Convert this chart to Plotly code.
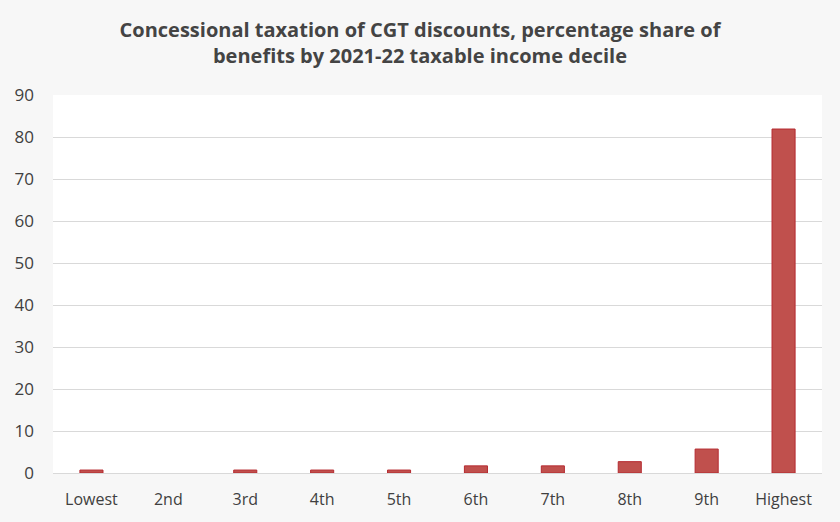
import plotly.graph_objects as go

categories = ["Lowest", "2nd", "3rd", "4th", "5th", "6th", "7th", "8th", "9th", "Highest"]
share = [0.7, 0.0, 0.7, 0.7, 0.7, 1.7, 1.7, 2.7, 5.7, 81.9]
y_ticks = [0, 10, 20, 30, 40, 50, 60, 70, 80, 90]

fig = go.Figure(go.Bar(
    x=categories, y=share,
    marker=dict(color="#c0504d",
                line=dict(color="#b52a30", width=[1 if v > 0 else 0 for v in share])),
    width=0.3,
))

fig.update_layout(
    width=840, height=522,
    paper_bgcolor="#f7f7f7", plot_bgcolor="#ffffff",
    margin=dict(l=53, r=18, t=95, b=49),
    title=dict(
        text="<b>Concessional taxation of CGT discounts, percentage share of<br>benefits by 2021-22 taxable income decile</b>",
        x=0.5, xanchor="center", y=0.93, yanchor="middle",
        font=dict(family="Open Sans", size=20, color="#444444"),
    ),
    font=dict(family="Open Sans", size=16, color="#404040"),
    showlegend=False,
)
fig.update_xaxes(showgrid=False, showline=False, ticks="", ticklabelstandoff=15,
                 tickfont=dict(size=16, color="#404040"))
fig.update_yaxes(range=[0, 90], tickvals=y_ticks, showgrid=True, gridcolor="#d9d9d9",
                 zeroline=True, zerolinecolor="#d9d9d9", zerolinewidth=1,
                 ticks="", ticklabelstandoff=18, tickfont=dict(size=17, color="#404040"))

fig.write_html("out.html", config={"displayModeBar": False},
               post_script="document.body.style.margin='0';")
